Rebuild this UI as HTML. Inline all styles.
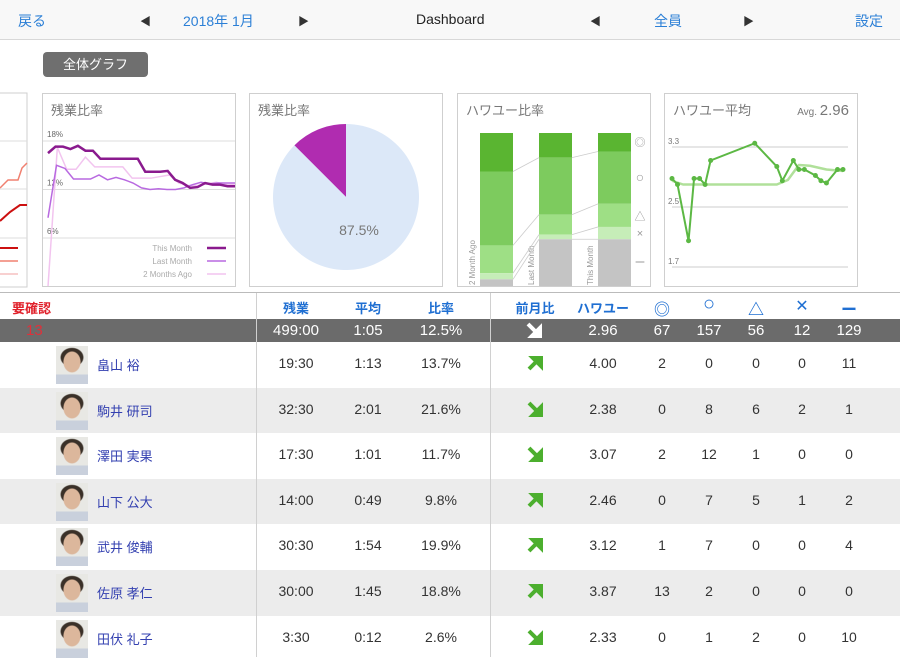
<!DOCTYPE html>
<html><head><meta charset="utf-8">
<style>
*{margin:0;padding:0;box-sizing:border-box}
body{width:900px;height:657px;overflow:hidden;background:#fff;font-family:"Liberation Sans","Noto Sans CJK JP",sans-serif;position:relative;color:#333}
.abs{position:absolute}
.top{left:0;top:0;width:900px;height:40px;background:#f8f8f8;border-bottom:1px solid #d8d8d8}
.top span{position:absolute;top:11px;font-size:14px;color:#2b7fd6}
.panel{position:absolute;top:93px;height:194px;border:1px solid #cfcfcf;background:#fff}
.ptitle{position:absolute;left:8px;top:6px;font-size:13px;color:#777}
.th{position:absolute;top:298px;font-size:13px;font-weight:bold;color:#1f6fd2;transform:translateX(-50%)}
.cell{position:absolute;font-size:14px;color:#333;transform:translateX(-50%)}
.sum{position:absolute;top:322px;font-size:15px;color:#fff;transform:translateX(-50%)}
</style></head><body>
<div class="abs top">
<span style="left:18px">戻る</span>
<span style="left:140px;color:#333;font-size:11px;top:13px">◀</span>
<span style="left:183px">2018年 1月</span>
<span style="left:298px;color:#333;font-size:11px;top:13px">▶</span>
<span style="left:416px;color:#222">Dashboard</span>
<span style="left:590px;color:#333;font-size:11px;top:13px">◀</span>
<span style="left:654px">全員</span>
<span style="left:743px;color:#333;font-size:11px;top:13px">▶</span>
<span style="left:855px">設定</span>
</div>
<div class="abs" style="left:43px;top:52px;width:105px;height:25px;background:#6f6f6f;border-radius:4px;color:#fff;font-size:13px;text-align:center;line-height:25px">全体グラフ</div>

<svg class="abs" style="left:0;top:0" width="900" height="300" id="charts"></svg>

<div class="panel" style="left:42px;width:194px;background:transparent"><div class="ptitle">残業比率</div></div>
<div class="panel" style="left:249px;width:194px;background:transparent"><div class="ptitle">残業比率</div></div>
<div class="panel" style="left:457px;width:194px;background:transparent"><div class="ptitle">ハワユー比率</div></div>
<div class="panel" style="left:664px;width:194px;background:transparent"><div class="ptitle">ハワユー平均</div><div style="position:absolute;right:8px;top:8px;font-size:10px;color:#777">Avg. <span style="font-size:15px">2.96</span></div></div>

<div class="abs" style="left:0;top:292px;width:900px;height:1px;background:#bbb"></div>
<div class="abs" style="left:12px;top:298px;font-size:13px;font-weight:bold;color:#e0202a">要確認</div>
<div class="th" style="left:296px">残業</div>
<div class="th" style="left:368px">平均</div>
<div class="th" style="left:441px">比率</div>
<div class="th" style="left:535px">前月比</div>
<div class="th" style="left:603px">ハワユー</div>
<div class="th" style="left:662px;font-size:16px;top:296px">◎</div>
<div class="th" style="left:709px;font-size:20px;top:293px;font-weight:normal">○</div>
<div class="th" style="left:756px;font-size:16px;top:296px">△</div>
<div class="th" style="left:802px;font-size:16px;top:296px;font-weight:normal">✕</div>
<div class="th" style="left:849px;font-size:16px;top:296px">ー</div>

<div class="abs" style="left:0;top:319px;width:900px;height:23px;background:#6b6b6b"></div>
<div class="abs" style="left:26px;top:322px;font-size:15px;color:#e0303a">13</div>
<div class="sum" style="left:296px">499:00</div>
<div class="sum" style="left:368px">1:05</div>
<div class="sum" style="left:441px">12.5%</div>
<svg class="abs" style="left:525px;top:321px" width="20" height="20"><path d="M3 3 L13 13 M7 15 L15 15 L15 7 Z" stroke="#fff" stroke-width="4" fill="#fff"/></svg>
<div class="sum" style="left:603px">2.96</div>
<div class="sum" style="left:662px">67</div>
<div class="sum" style="left:709px">157</div>
<div class="sum" style="left:756px">56</div>
<div class="sum" style="left:802px">12</div>
<div class="sum" style="left:849px">129</div>

<div id="rows"></div>
<div class="abs" style="left:256px;top:293px;width:1px;height:364px;background:#d0d0d0"></div>
<div class="abs" style="left:490px;top:293px;width:1px;height:364px;background:#d0d0d0"></div>

<script>
const NS='http://www.w3.org/2000/svg';
const svg=document.getElementById('charts');
function el(t,a,p){const e=document.createElementNS(NS,t);for(const k in a)e.setAttribute(k,a[k]);(p||svg).appendChild(e);return e;}

const p1=el('rect',{x:-5,y:93,width:32,height:194,fill:'#fff',stroke:'#cfcfcf'});


el('line',{x1:0,y1:141,x2:27,y2:141,stroke:'#ddd'});el('line',{x1:0,y1:189,x2:27,y2:189,stroke:'#ddd'});el('line',{x1:0,y1:238,x2:27,y2:238,stroke:'#ddd'});
el('polyline',{points:'0,188 8,180 18,180 22,168 27,163',fill:'none',stroke:'#f08070','stroke-width':1.5});
el('polyline',{points:'0,221 10,212 20,205 27,205',fill:'none',stroke:'#cc1010','stroke-width':2});
el('line',{x1:0,y1:248,x2:18,y2:248,stroke:'#cc1010','stroke-width':2});
el('line',{x1:0,y1:261,x2:18,y2:261,stroke:'#f08070','stroke-width':1.5});
el('line',{x1:0,y1:274,x2:18,y2:274,stroke:'#f5c0c0','stroke-width':1.5});

const ratioTicks=[18,12,6];
const thisMonth=[16.5,17.3,17.3,17.0,17.4,16.8,16.8,15.8,15.8,15.8,15.8,15.8,15.8,14.2,14.2,14.2,14.3,13.2,12.8,12.2,12.3,12.8,12.6,12.6,12.4,12.4];
const lastMonth=[8.5,15.0,14.6,13.3,13.3,13.3,13.8,13.2,13.5,13.2,12.8,12.2,12.0,12.1,12.0,12.0,12.2,12.6,12.9,12.7,12.8,12.8,12.8];
const twoMonthsAgo=[0,17.2,14.5,14.5,16.0,14.8,14.8,14.8,14.8,13.4,13.4,13.4,13.6,13.8,12.8,12.5,12.5,12.7,12.9,12.6,12.6];
const ry=v=>141+(18-v)*(97/12);
const rx=(i,n)=>48+i*(187/(n-1));
ratioTicks.forEach(t=>{el('line',{x1:43,y1:ry(t),x2:235,y2:ry(t),stroke:'#ddd'});const tx=el('text',{x:47,y:ry(t)-4,'font-size':8,fill:'#666'});tx.textContent=t+'%';});
function series(arr,col,w,name){const pts=arr.map((v,i)=>rx(i,arr.length)+','+ry(v)).join(' ');const p=el('polyline',{points:pts,fill:'none',stroke:col,'stroke-width':w});

}
series(twoMonthsAgo,'#f2c4ef',1.5,'two-months-ago-line');
series(lastMonth,'#b869e0',1.5,'last-month-line');
series(thisMonth,'#8a1a8e',2.5,'this-month-line');
[['This Month','#8a1a8e',2.5],['Last Month','#b869e0',1.5],['2 Months Ago','#f2c4ef',1.5]].forEach((l,i)=>{const y=248+i*13;const t=el('text',{x:192,y:y+3,'font-size':8,fill:'#aaa','text-anchor':'end'});t.textContent=l[0];el('line',{x1:207,y1:y,x2:226,y2:y,stroke:l[1],'stroke-width':l[2]});});

const pieValues=[12.5,87.5];
const pieColors=['#b02cb0','#dce8f8'];
const cx=346,cy=197,r=73;
let ang=0;
pieValues.forEach((v,i)=>{const a0=ang,a1=ang-v/100*2*Math.PI;ang=a1;
 const x0=cx+r*Math.sin(a0),y0=cy-r*Math.cos(a0),x1=cx+r*Math.sin(a1),y1=cy-r*Math.cos(a1);
 const large=v>50?1:0;
 const p=el('path',{d:`M${cx},${cy} L${x0},${y0} A${r},${r} 0 ${large} 0 ${x1},${y1} Z`,fill:pieColors[i]});
 
 });
const pt=el('text',{x:359,y:235,'font-size':14,fill:'#777','text-anchor':'middle'});pt.textContent=pieValues[1]+'%';

const barCats=['2 Month Ago','Last Month','This Month'];
const barMarks=['◎','○','△','×','ー'];
const barSeries=[[25,48,18,4,5],[16,37,13,3,31],[12,34,15,8,31]];
const segColors=['#5ab531','#7dcb5e','#9edf85','#c6edb8','#c4c4c4'];
const bx=i=>480+i*59, bw=33, btop=133, bh=154;
const bounds=[];
barSeries.forEach((s,i)=>{let y=btop;const b=[];s.forEach((v,j)=>{const h=v/100*bh;const r=el('rect',{x:bx(i),y:y,width:bw,height:h,fill:segColors[j]});
 
 
 y+=h;b.push(y);});bounds.push(b);
 const t=el('text',{x:0,y:0,'font-size':8,fill:'#999',transform:`translate(${bx(i)-5},285) rotate(-90)`});t.textContent=barCats[i];});
for(let i=0;i<2;i++)for(let j=0;j<4;j++)el('line',{x1:bx(i)+bw,y1:bounds[i][j],x2:bx(i+1),y2:bounds[i+1][j],stroke:'#ccc','stroke-width':0.8});
const markY=[142,178,216,233,262];
barMarks.forEach((m,j)=>{const t=el('text',{x:640,y:markY[j]+4,'font-size':j==1?14:11,fill:'#999','text-anchor':'middle'});t.textContent=m;});

const avgTicks=[3.3,2.5,1.7];
const avgDays=[1,2,4,5,6,7,8,16,20,21,23,24,25,27,28,29,31,32];
const avgValues=[2.88,2.8,2.05,2.88,2.88,2.8,3.12,3.35,3.04,2.85,3.12,3.0,3.0,2.92,2.85,2.82,3.0,3.0];
const trendDays=[1,3,8,14,20,22,24,26,29,32];
const trendValues=[2.85,2.8,2.8,2.8,2.8,2.86,3.06,3.05,3.0,2.98];
const ax=d=>672+(d-1)*(171/31);
const ay=v=>147+(3.3-v)*75;
avgTicks.forEach(t=>{el('line',{x1:672,y1:ay(t),x2:848,y2:ay(t),stroke:'#ccc'});const tx=el('text',{x:668,y:ay(t)-3,'font-size':8,fill:'#777'});tx.textContent=t.toFixed(1);});
const tl=el('polyline',{points:trendDays.map((d,i)=>ax(d)+','+ay(trendValues[i])).join(' '),fill:'none',stroke:'#b0e09a','stroke-width':2.5,'stroke-linejoin':'round'});


const al=el('polyline',{points:avgDays.map((d,i)=>ax(d)+','+ay(avgValues[i])).join(' '),fill:'none',stroke:'#5cb844','stroke-width':2});


avgDays.forEach((d,i)=>{const c=el('circle',{cx:ax(d),cy:ay(avgValues[i]),r:2.5,fill:'#5cb844'});
 
 });

const names=['畠山 裕','駒井 研司','澤田 実果','山下 公大','武井 俊輔','佐原 孝仁','田伏 礼子'];
const overtime=['19:30','32:30','17:30','14:00','30:30','30:00','3:30'];
const avgs=['1:13','2:01','1:01','0:49','1:54','1:45','0:12'];
const ratios=['13.7%','21.6%','11.7%','9.8%','19.9%','18.8%','2.6%'];
const trend=['up','down','down','up','up','up','down'];
const hau=['4.00','2.38','3.07','2.46','3.12','3.87','2.33'];
const counts=[[2,0,0,0,11],[0,8,6,2,1],[2,12,1,0,0],[0,7,5,1,2],[1,7,0,0,4],[13,2,0,0,0],[0,1,2,0,10]];
const rows=document.getElementById('rows');
const colX=[662,709,756,802,849];
names.forEach((n,i)=>{
 const top=342+i*45.6;
 const row=document.createElement('div');
 
 
 row.className='abs';row.style.cssText=`left:0;top:${top}px;width:900px;height:45.6px;background:${i%2?'#ececec':'#fff'}`;
 rows.appendChild(row);
 const ay2=top+13;
 let h=`<div class="abs" style="left:56px;top:${top+4}px;width:32px;height:38px;background:radial-gradient(ellipse 9px 11px at 50% 42%,#dcb79c 90%,transparent 100%),radial-gradient(ellipse 12px 10px at 50% 30%,#3a3028 90%,transparent 100%),linear-gradient(#e8e8e4 0,#e8e8e4 75%,#c9d0dc 75%)"></div>`;
 h+=`<div class="abs" style="left:97px;top:${ay2}px;font-size:13px;color:#3340b0">${n}</div>`;
 h+=`<div class="cell" style="left:296px;top:${ay2}px">${overtime[i]}</div>`;
 h+=`<div class="cell" style="left:368px;top:${ay2}px">${avgs[i]}</div>`;
 h+=`<div class="cell" style="left:441px;top:${ay2}px">${ratios[i]}</div>`;
 const path=trend[i]==='up'?'M3 15 L12 6 M7 4 L15 4 L15 12 Z':'M3 3 L12 12 M7 15 L15 15 L15 7 Z';
 h+=`<svg class="abs" style="left:526px;top:${top+12}px" width="19" height="19"><path d="${path}" stroke="#4caf2e" stroke-width="4" fill="#4caf2e"/></svg>`;
 h+=`<div class="cell" style="left:603px;top:${ay2}px">${hau[i]}</div>`;
 counts[i].forEach((c,j)=>{h+=`<div class="cell" style="left:${colX[j]}px;top:${ay2}px">${c}</div>`;});
 row.insertAdjacentHTML('afterend',h);
});
</script>
</body></html>
